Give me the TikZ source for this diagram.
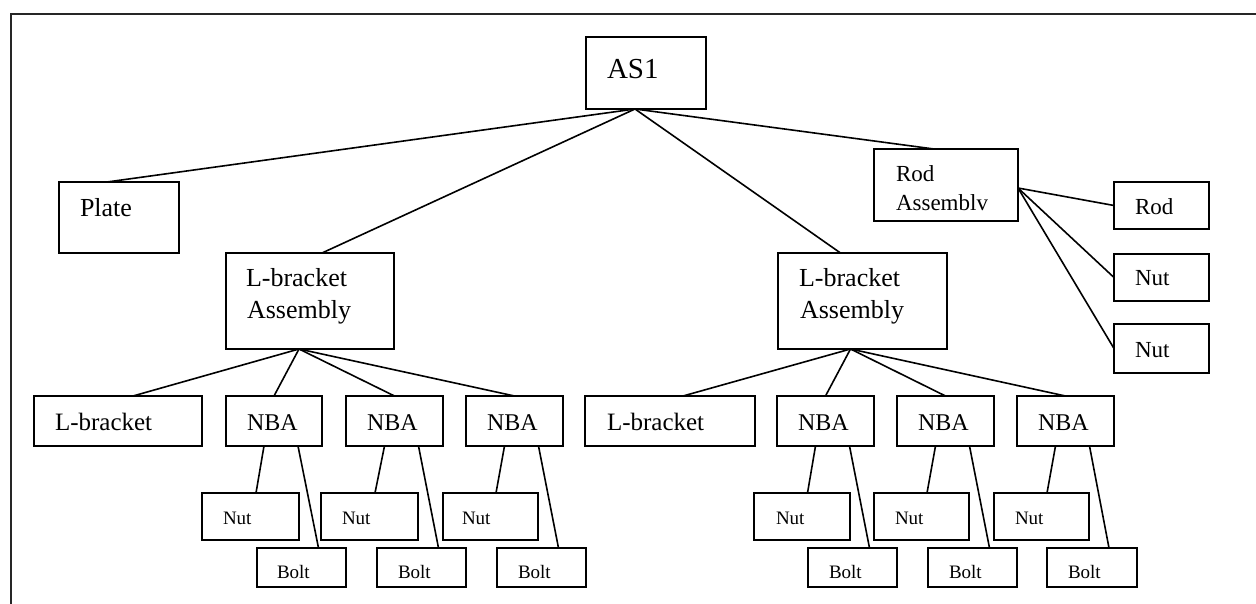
\documentclass[tikz,border=0pt]{standalone}
\usepackage{fontspec}
\setmainfont{Liberation Serif}
\newcommand\bx[5]{\node[box, minimum width={#4pt-#2pt}, minimum height={#5pt-#3pt}] (#1) at ({(#2+#4)/2},{(#3+#5)/2}) {};}
\newcommand\fs[1]{\fontsize{#1}{#1}\selectfont}
\begin{document}
\begin{tikzpicture}[x=1pt,y=-1pt,
  box/.style={draw, rectangle, line width=1.6pt, inner sep=0pt, outer sep=0pt},
  lbl/.style={anchor=base west, inner sep=0pt, outer sep=0pt},
  conn/.style={line width=1.6pt},
  frame/.style={line width=1.8pt, draw=black!85}]
\path[use as bounding box] (0,0) rectangle (1256,604);
\draw[frame] (1258,14) -- (11,14) -- (11,606);
% boxes
\bx{AS1}{586}{37}{706}{109}
\bx{Plate}{59}{182}{179}{253}
\bx{LBA1}{226}{253}{394}{349}
\bx{LBA2}{778}{253}{947}{349}
\bx{RA}{874}{149}{1018}{221}
\bx{Rod}{1114}{182}{1209}{229}
\bx{RN1}{1114}{254}{1209}{301}
\bx{RN2}{1114}{324}{1209}{373}
\bx{LB1}{34}{396}{202}{446}
\bx{NBA1}{226}{396}{322}{446}
\bx{NBA2}{346}{396}{443}{446}
\bx{NBA3}{466}{396}{563}{446}
\bx{LB2}{585}{396}{755}{446}
\bx{NBA4}{777}{396}{874}{446}
\bx{NBA5}{897}{396}{994}{446}
\bx{NBA6}{1017}{396}{1114}{446}
\bx{N1}{202}{493}{299}{540}
\bx{N2}{321}{493}{418}{540}
\bx{N3}{443}{493}{538}{540}
\bx{N4}{754}{493}{850}{540}
\bx{N5}{874}{493}{969}{540}
\bx{N6}{994}{493}{1089}{540}
\bx{B1}{257}{548}{346}{587}
\bx{B2}{377}{548}{466}{587}
\bx{B3}{497}{548}{586}{587}
\bx{B4}{808}{548}{897}{587}
\bx{B5}{928}{548}{1017}{587}
\bx{B6}{1047}{548}{1137}{587}
% labels
\node[lbl, font=\fs{29}] (tAS1) at (607,79) {AS1};
\node[lbl, font=\fs{26}] (tPlate) at (80,217) {Plate};
\node[lbl, font=\fs{26}] (tLBA1a) at (246,287) {L-bracket};
\node[lbl, font=\fs{26}] (tLBA1b) at (247,318) {Assembly};
\node[lbl, font=\fs{26}] (tLBA2a) at (799,287) {L-bracket};
\node[lbl, font=\fs{26}] (tLBA2b) at (800,318) {Assembly};
\node[lbl, font=\fs{23}] (tRAa) at (896,182) {Rod};
\node[lbl, font=\fs{23}] (tRAb) at (896,211) {Assemblv};
\node[lbl, font=\fs{23}] (tRod) at (1135,215) {Rod};
\node[lbl, font=\fs{23}] (tRN1) at (1135,285) {Nut};
\node[lbl, font=\fs{23}] (tRN2) at (1135,357) {Nut};
\node[lbl, font=\fs{25}] (tLB1) at (55,430) {L-bracket};
\node[lbl, font=\fs{25}] (tLB2) at (607,430) {L-bracket};
\node[lbl, font=\fs{24}] (tNBA1) at (247,430) {NBA};
\node[lbl, font=\fs{24}] (tNBA2) at (367,430) {NBA};
\node[lbl, font=\fs{24}] (tNBA3) at (487,430) {NBA};
\node[lbl, font=\fs{24}] (tNBA4) at (798,430) {NBA};
\node[lbl, font=\fs{24}] (tNBA5) at (918,430) {NBA};
\node[lbl, font=\fs{24}] (tNBA6) at (1038,430) {NBA};
\node[lbl, font=\fs{19}] (tN1) at (223,524) {Nut};
\node[lbl, font=\fs{19}] (tN2) at (342,524) {Nut};
\node[lbl, font=\fs{19}] (tN3) at (462,524) {Nut};
\node[lbl, font=\fs{19}] (tN4) at (776,524) {Nut};
\node[lbl, font=\fs{19}] (tN5) at (895,524) {Nut};
\node[lbl, font=\fs{19}] (tN6) at (1015,524) {Nut};
\node[lbl, font=\fs{19}] (tB1) at (277,578) {Bolt};
\node[lbl, font=\fs{19}] (tB2) at (398,578) {Bolt};
\node[lbl, font=\fs{19}] (tB3) at (518,578) {Bolt};
\node[lbl, font=\fs{19}] (tB4) at (829,578) {Bolt};
\node[lbl, font=\fs{19}] (tB5) at (949,578) {Bolt};
\node[lbl, font=\fs{19}] (tB6) at (1068,578) {Bolt};
% connectors from AS1
\coordinate (as1b) at ([xshift=-11pt]AS1.south);
\draw[conn] (as1b) -- ([xshift=-12pt]Plate.north);
\draw[conn] (as1b) -- ([xshift=12pt]LBA1.north);
\draw[conn] (as1b) -- ([xshift=-22pt]LBA2.north);
\draw[conn] (as1b) -- ([xshift=-12pt]RA.north);
% rod assembly
\coordinate (rae) at ([yshift=-3pt]RA.east);
\draw[conn] (rae) -- (Rod.west);
\draw[conn] (rae) -- (RN1.west);
\draw[conn] (rae) -- (RN2.west);
% L-bracket assemblies
\coordinate (l1b) at ([xshift=-11pt]LBA1.south);
\draw[conn] (l1b) -- ([xshift=15pt]LB1.north);
\draw[conn] (l1b) -- (NBA1.north);
\draw[conn] (l1b) -- (NBA2.north);
\draw[conn] (l1b) -- (NBA3.north);
\coordinate (l2b) at ([xshift=-12pt]LBA2.south);
\draw[conn] (l2b) -- ([xshift=13pt]LB2.north);
\draw[conn] (l2b) -- (NBA4.north);
\draw[conn] (l2b) -- (NBA5.north);
\draw[conn] (l2b) -- (NBA6.north);
% NBA to nut and bolt
\foreach \i in {1,...,6}{
  \draw[conn] ([xshift=-10pt]NBA\i.south) -- ([xshift=5.5pt]N\i.north);
  \draw[conn] ([xshift=24pt]NBA\i.south) -- ([xshift=17pt]B\i.north);
}
\end{tikzpicture}
\end{document}
